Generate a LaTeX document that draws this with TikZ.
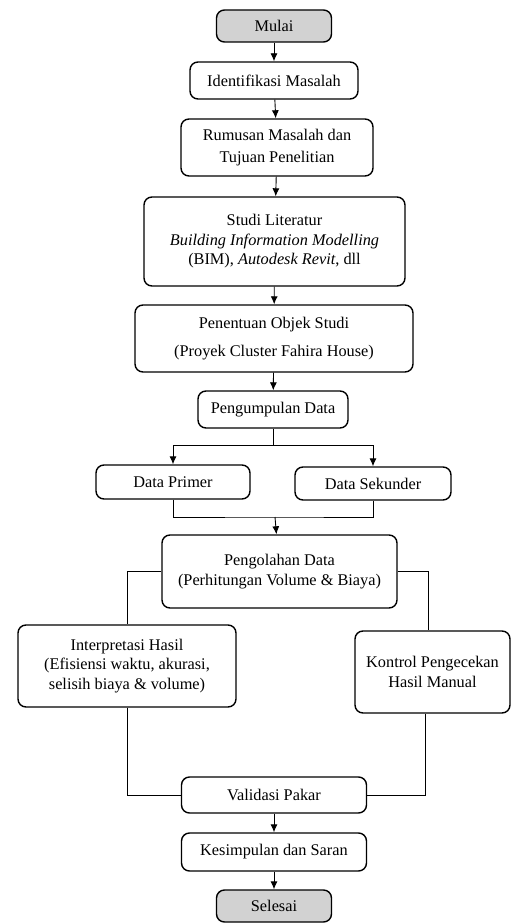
\documentclass[tikz,border=0pt]{standalone}
\usepackage{fontspec}
\setmainfont{Liberation Serif}
\usetikzlibrary{arrows.meta}

\begin{document}
\begin{tikzpicture}[x=1pt,y=-1pt,
    box/.style={draw,line width=1.4pt,rounded corners=8pt,align=center,
      inner sep=0pt,font=\fontsize{16.3}{19.5}\selectfont},
    term/.style={box,fill=gray!35},
    arr/.style={-{Latex[length=8pt,width=7pt]},line width=0.9pt},
    lin/.style={line width=0.9pt}]
  \useasboundingbox (0,0) rectangle (512,923);
  % Upper part of the Figure
  \node[term,minimum width=115,minimum height=32] (mulai)   at (274,26)    {Mulai};
  \node[box,minimum width=168,minimum height=37]  (ident)   at (274,80.5)  {Identifikasi Masalah};
  \node[box,minimum width=192,minimum height=57]  (rumusan) at (277,147.5) {Rumusan Masalah dan\\[3pt]Tujuan Penelitian};
  \node[box,minimum width=261,minimum height=89]  (studi)   at (274.5,241.5)
        {Studi Literatur\\\textit{Building Information Modelling}\\(BIM), \textit{Autodesk Revit}, dll};
  \node[box,minimum width=278,minimum height=67]  (objek)   at (274,338.5) {Penentuan Objek Studi\\[9pt](Proyek Cluster Fahira House)};
  \node[box,minimum width=150,minimum height=37]  (kumpul)  at (273,409.5) {Pengumpulan Data};
  \draw[arr] (mulai) -- (ident);
  \draw[arr] (ident) -- (rumusan);
  \draw[arr] (rumusan) -- (studi);
  \draw[arr] (studi) -- (objek);
  \draw[arr] (objek) -- (kumpul);
  % Data branches
  \node[box,minimum width=154,minimum height=34]  (primer)   at (173,482)   {Data Primer};
  \node[box,minimum width=156,minimum height=33]  (sekunder) at (373,483.5) {Data Sekunder};
  \coordinate (split) at (273,445);
  \coordinate (merge) at (275,517);
  \draw[lin] (kumpul) -- (split);
  \draw[arr] (split) -| (primer);
  \draw[arr] (split) -| (sekunder);
  \draw[lin] (primer) |- (merge) -| (sekunder);
  % Middle part of the Figure
  \node[box,minimum width=235,minimum height=73] (olah)    at (279.5,571.5) {Pengolahan Data\\(Perhitungan Volume \& Biaya)};
  \node[box,minimum width=218,minimum height=82] (interp)  at (127,666)     {Interpretasi Hasil\\(Efisiensi waktu, akurasi,\\selisih biaya \& volume)};
  \node[box,minimum width=155,minimum height=82] (kontrol) at (432.5,672)   {Kontrol Pengecekan\\Hasil Manual};
  \draw[arr] (merge) -- (olah);
  \draw[lin] (olah.west) -| (interp.north);
  \draw[lin] (olah.east) -| ([xshift=-4]kontrol.north);
  % Lower part of the Figure
  \node[box,minimum width=185,minimum height=36] (validasi) at (274,795) {Validasi Pakar};
  \node[box,minimum width=185,minimum height=38] (simpul)   at (274,852) {Kesimpulan dan Saran};
  \node[term,minimum width=115,minimum height=32] (selesai) at (274,906) {Selesai};
  \draw[lin] (interp.south) |- (validasi.west);
  \draw[lin] ([xshift=-7]kontrol.south) |- (validasi.east);
  \draw[arr] (validasi) -- (simpul);
  \draw[arr] (simpul) -- (selesai);
\end{tikzpicture}
\end{document}
